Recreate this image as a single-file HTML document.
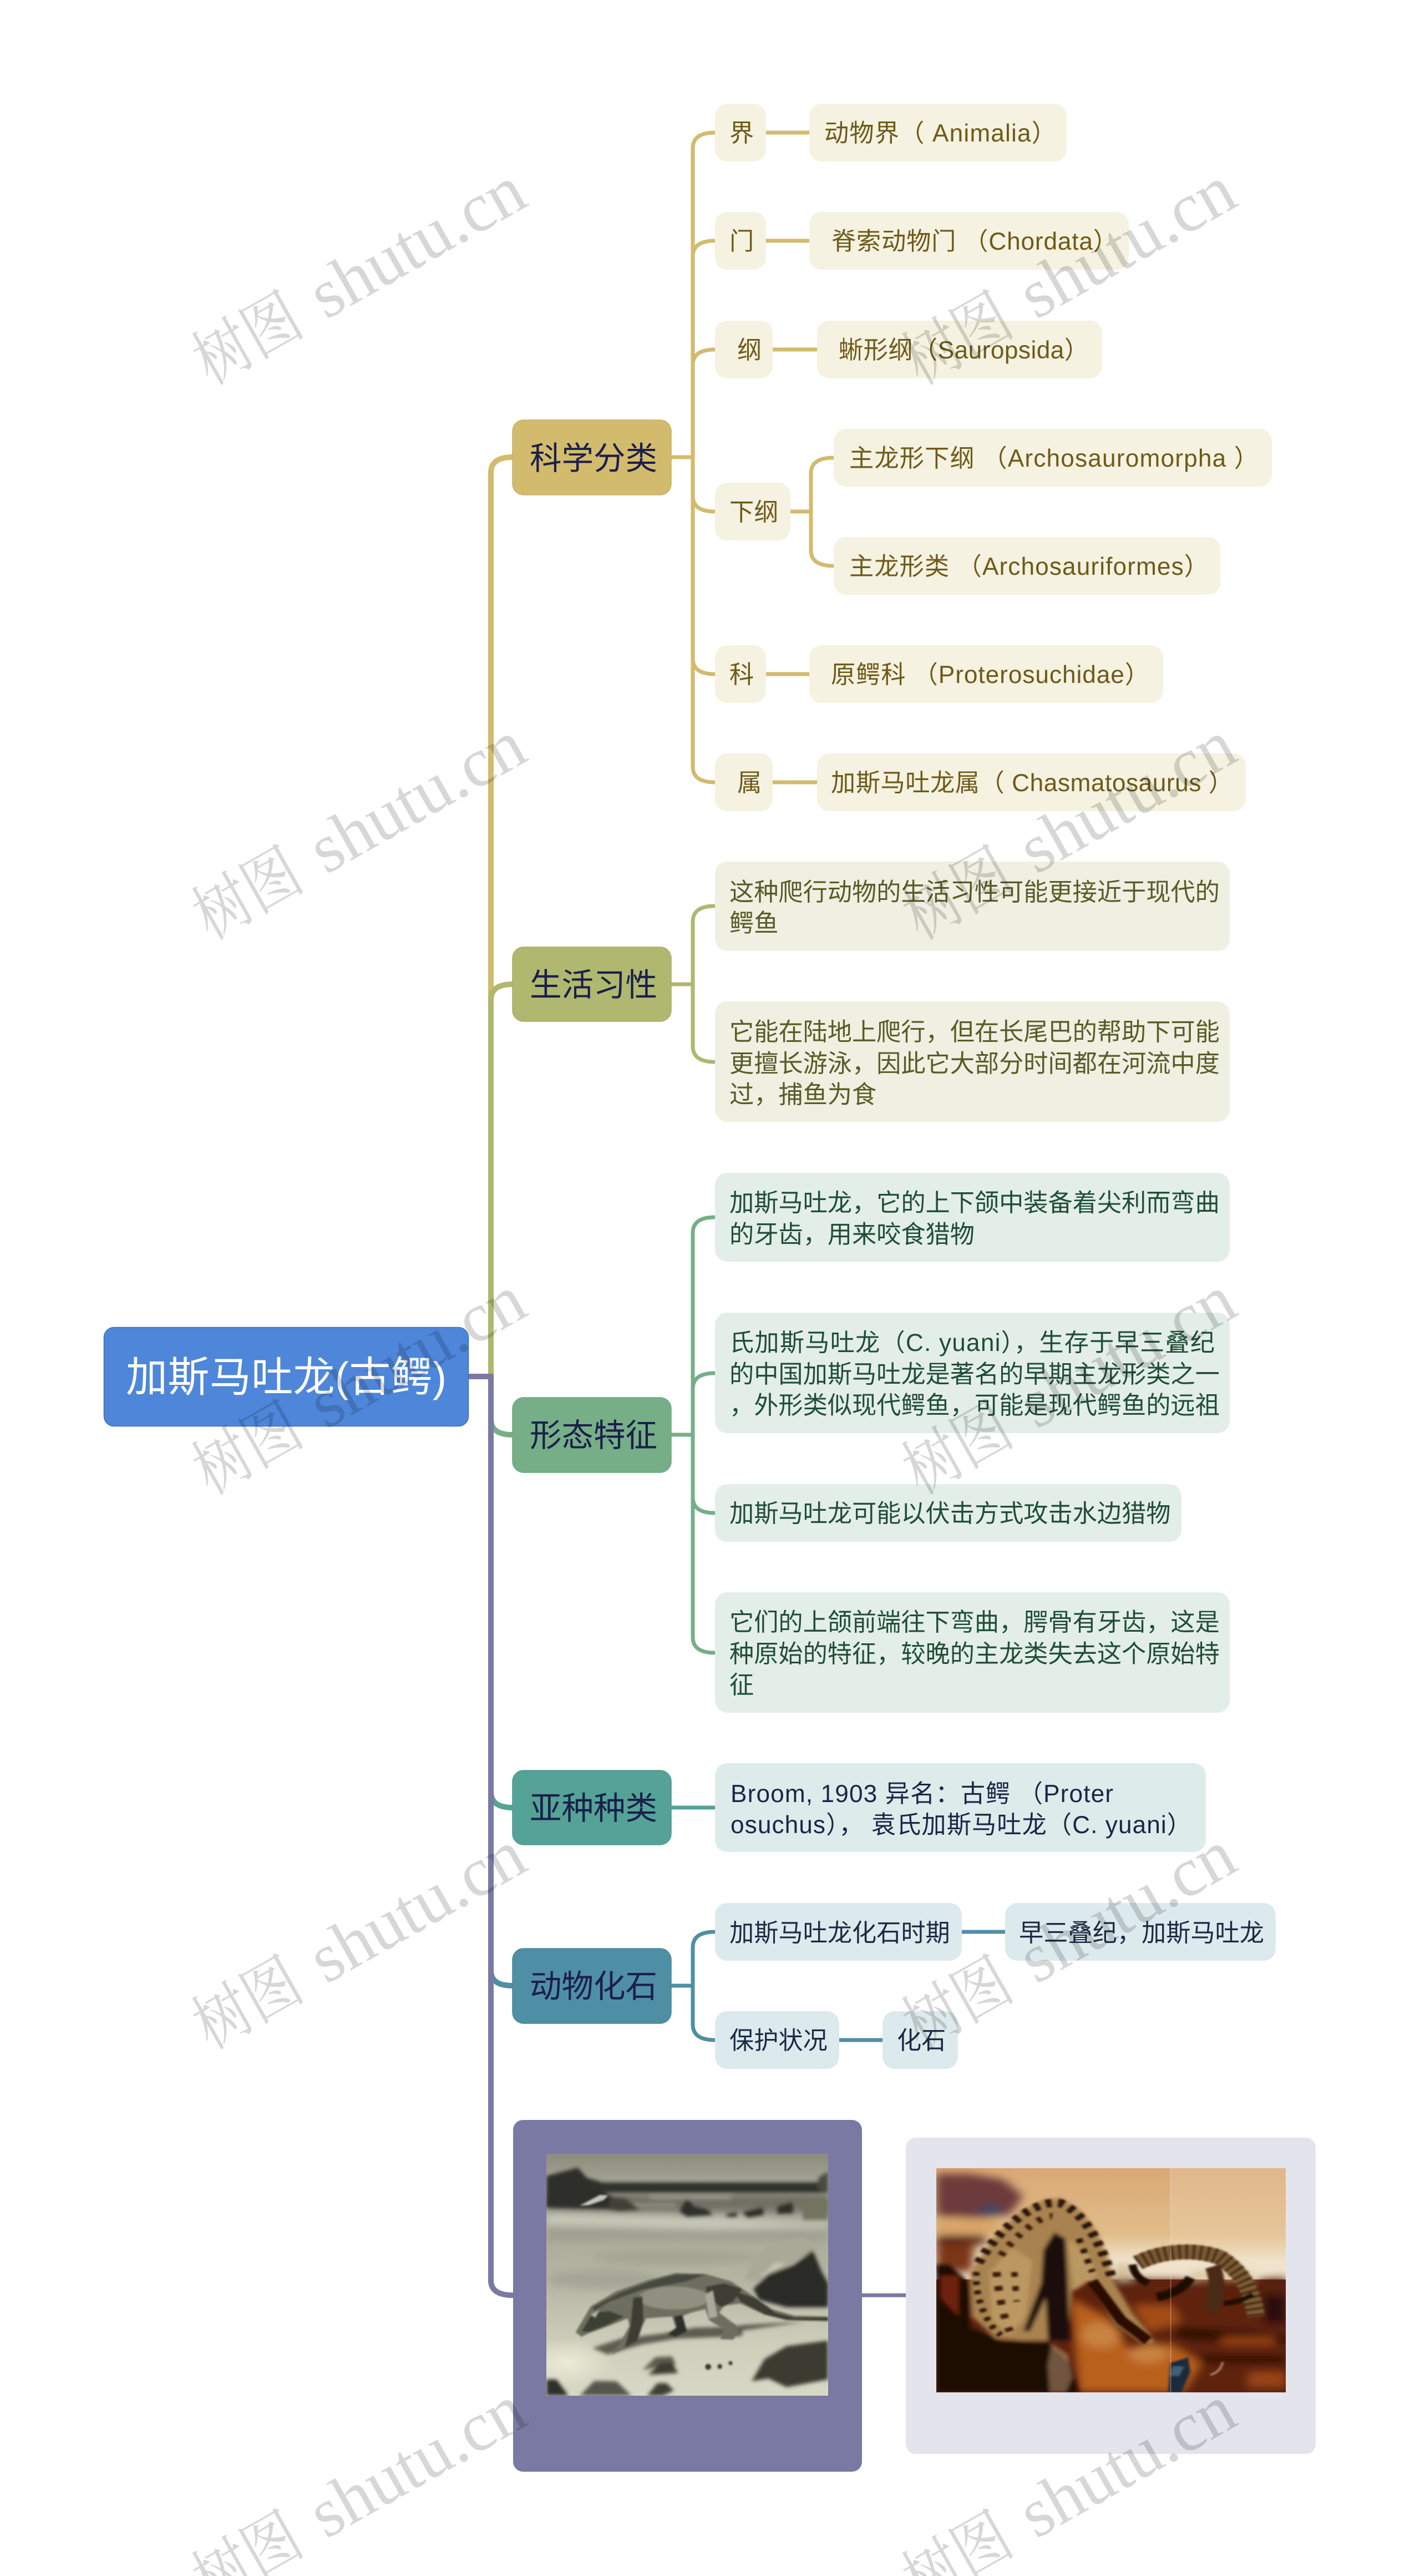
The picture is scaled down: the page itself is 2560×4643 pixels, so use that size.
<!DOCTYPE html>
<html lang="zh-CN"><head><meta charset="utf-8"><title>加斯马吐龙(古鳄)</title>
<style>
html,body{margin:0;padding:0;background:#fff;width:2560px;height:4643px;overflow:hidden}
svg{display:block}
text{font-family:"Liberation Sans","Noto Sans CJK SC",sans-serif;white-space:pre}
.l text{font-size:44.2px}
.b text{font-size:57.5px;fill:#1b1f4b}
.w text{font-family:"Liberation Serif","Noto Serif CJK SC",serif;fill:#000;fill-opacity:.155}
.w .c{font-size:116px}
.w .e{font-size:126px}
</style></head><body>
<svg width="2560" height="4643" viewBox="0 0 2560 4643" xmlns="http://www.w3.org/2000/svg">
<defs>
<filter id="b8" x="-10%" y="-10%" width="120%" height="120%"><feGaussianBlur stdDeviation="22"/></filter>
<filter id="b4" x="-10%" y="-10%" width="120%" height="120%"><feGaussianBlur stdDeviation="10"/></filter>
<filter id="b2" x="-10%" y="-10%" width="120%" height="120%"><feGaussianBlur stdDeviation="5"/></filter>
<linearGradient id="sky" x1="0" y1="0" x2="0" y2="1"><stop offset="0" stop-color="#d9a874"/><stop offset=".6" stop-color="#e2bd8a"/><stop offset=".82" stop-color="#f0e2ca"/><stop offset="1" stop-color="#efe4d0"/></linearGradient>
<linearGradient id="sea" x1="0" y1="0" x2="0" y2="1"><stop offset="0" stop-color="#8b8c7c"/><stop offset=".1" stop-color="#a0a090"/><stop offset=".3" stop-color="#a8a998"/><stop offset=".55" stop-color="#b6b7a5"/><stop offset=".8" stop-color="#cfcfbc"/><stop offset="1" stop-color="#d8d8c6"/></linearGradient>
<radialGradient id="glow"><stop offset="0" stop-color="#ecebd6"/><stop offset="1" stop-color="#ecebd6" stop-opacity="0"/></radialGradient>
</defs>
<rect width="2560" height="4643" fill="#fff"/>

<g fill="none">
<g stroke-width="10">
<path stroke="#d2bb6c" d="M885,2481V852Q885,824 924,824"/>
<path stroke="#afb86e" d="M885,2481V1802Q885,1774 924,1774"/>
<path stroke="#76af87" d="M885,2481V2558Q885,2586 924,2586"/>
<path stroke="#54a396" d="M885,2481V3230Q885,3258 924,3258"/>
<path stroke="#4f8fa5" d="M885,2481V3552Q885,3579 924,3579"/>
<path stroke="#7a79a3" d="M845,2481H885V4110Q885,4137 925,4137"/>
</g>
<g stroke="#d2bb6c" stroke-width="7">
<path d="M1210,824H1249"/>
<path d="M1249,824V267Q1249,239 1289,239H1459"/>
<path d="M1249,824V462Q1249,434 1289,434H1459"/>
<path d="M1249,824V658Q1249,630 1289,630H1473"/>
<path d="M1249,824V894Q1249,922 1289,922H1462"/>
<path d="M1249,824V1187Q1249,1215 1289,1215H1459"/>
<path d="M1249,824V1382Q1249,1410 1289,1410H1473"/>
<path d="M1462,922V853Q1462,825 1503,825"/>
<path d="M1462,922V992Q1462,1020 1503,1020"/>
</g>
<g stroke="#afb86e" stroke-width="7">
<path d="M1210,1774H1249"/>
<path d="M1249,1774V1661Q1249,1633 1289,1633"/>
<path d="M1249,1774V1886Q1249,1914 1289,1914"/>
</g>
<g stroke="#76af87" stroke-width="7">
<path d="M1210,2586H1249"/>
<path d="M1249,2586V2222Q1249,2194 1289,2194"/>
<path d="M1249,2586V2503Q1249,2475 1289,2475"/>
<path d="M1249,2586V2699Q1249,2727 1289,2727"/>
<path d="M1249,2586V2951Q1249,2979 1289,2979"/>
</g>
<path stroke="#54a396" stroke-width="7" d="M1210,3258H1289"/>
<g stroke="#4f8fa5" stroke-width="7">
<path d="M1210,3579H1249"/>
<path d="M1249,3579V3510Q1249,3482 1289,3482H1812"/>
<path d="M1249,3579V3649Q1249,3677 1289,3677H1591"/>
</g>
<path stroke="#7a79a3" stroke-width="7" d="M1553,4137H1633"/>
</g>

<rect x="187.500" y="2392.500" width="657" height="178" rx="18" fill="#4e86da" stroke="#3b6fbf" stroke-width="1.500"/>
<text x="227" y="2508" font-size="75" fill="#fff" textLength="578">加斯马吐龙(古鳄)</text>

<g class="b">
<rect x="924" y="757" width="286" height="135" rx="20" fill="#d2bb6c" stroke="#c9b163" stroke-width="1.500"/>
<rect x="924" y="1707" width="286" height="134" rx="20" fill="#afb86e" stroke="#a6af65" stroke-width="1.500"/>
<rect x="924" y="2519" width="286" height="135" rx="20" fill="#76af87" stroke="#6ea67f" stroke-width="1.500"/>
<rect x="924" y="3191" width="286" height="134" rx="20" fill="#54a396" stroke="#4c9a8d" stroke-width="1.500"/>
<rect x="924" y="3512" width="286" height="135" rx="20" fill="#4f8fa5" stroke="#47869c" stroke-width="1.500"/>
<text x="955" y="846">科学分类</text>
<text x="955" y="1795">生活习性</text>
<text x="955" y="2607">形态特征</text>
<text x="955" y="3279">亚种种类</text>
<text x="955" y="3600">动物化石</text>
</g>

<g class="l" fill="#f5f2e1">
<rect x="1289" y="187" width="92" height="104" rx="22"/>
<rect x="1459" y="187" width="464" height="104" rx="22"/>
<rect x="1289" y="382" width="92" height="104" rx="22"/>
<rect x="1459" y="382" width="576" height="104" rx="22"/>
<rect x="1289" y="578" width="104" height="104" rx="22"/>
<rect x="1473" y="578" width="514" height="104" rx="22"/>
<rect x="1289" y="870" width="136" height="104" rx="22"/>
<rect x="1503" y="773" width="790" height="104" rx="22"/>
<rect x="1503" y="968" width="697" height="104" rx="22"/>
<rect x="1289" y="1163" width="92" height="104" rx="22"/>
<rect x="1459" y="1163" width="638" height="104" rx="22"/>
<rect x="1289" y="1358" width="104" height="104" rx="22"/>
<rect x="1473" y="1358" width="773" height="104" rx="22"/>
<g fill="#6f5a18">
<text x="1315" y="255">界</text>
<text x="1486" y="255" textLength="418">动物界（ Animalia）</text>
<text x="1315" y="450">门</text>
<text x="1499" y="450" textLength="516">脊索动物门 （Chordata）</text>
<text x="1329" y="646">纲</text>
<text x="1512" y="646" textLength="451">蜥形纲（Sauropsida）</text>
<text x="1315" y="938">下纲</text>
<text x="1531" y="841" textLength="738">主龙形下纲 （Archosauromorpha ）</text>
<text x="1531" y="1036" textLength="648">主龙形类 （Archosauriformes）</text>
<text x="1315" y="1231">科</text>
<text x="1498" y="1231" textLength="574">原鳄科 （Proterosuchidae）</text>
<text x="1329" y="1426">属</text>
<text x="1498" y="1426" textLength="725">加斯马吐龙属（ Chasmatosaurus ）</text>
</g>
</g>

<g class="l" fill="#eff0e2">
<rect x="1289" y="1553" width="928" height="161" rx="22"/>
<rect x="1289" y="1805" width="928" height="217" rx="22"/>
<g fill="#565d25">
<text x="1315" y="1623">这种爬行动物的生活习性可能更接近于现代的</text>
<text x="1315" y="1679">鳄鱼</text>
<text x="1315" y="1875">它能在陆地上爬行，但在长尾巴的帮助下可能</text>
<text x="1315" y="1932">更擅长游泳，因此它大部分时间都在河流中度</text>
<text x="1315" y="1988">过，捕鱼为食</text>
</g>
</g>

<g class="l" fill="#e4eee8">
<rect x="1289" y="2114" width="928" height="160" rx="22"/>
<rect x="1289" y="2366" width="928" height="217" rx="22"/>
<rect x="1289" y="2675" width="841" height="104" rx="22"/>
<rect x="1289" y="2870" width="928" height="217" rx="22"/>
<g fill="#1f4f36">
<text x="1315" y="2183">加斯马吐龙，它的上下颌中装备着尖利而弯曲</text>
<text x="1315" y="2240">的牙齿，用来咬食猎物</text>
<text x="1315" y="2435" textLength="875">氏加斯马吐龙（C. yuani），生存于早三叠纪</text>
<text x="1315" y="2492">的中国加斯马吐龙是著名的早期主龙形类之一</text>
<text x="1315" y="2548">，外形类似现代鳄鱼，可能是现代鳄鱼的远祖</text>
<text x="1315" y="2743">加斯马吐龙可能以伏击方式攻击水边猎物</text>
<text x="1315" y="2939">它们的上颌前端往下弯曲，腭骨有牙齿，这是</text>
<text x="1315" y="2996">种原始的特征，较晚的主龙类失去这个原始特</text>
<text x="1315" y="3052">征</text>
</g>
</g>

<g class="l">
<rect x="1289" y="3178" width="885" height="160" rx="22" fill="#ddecea"/>
<g fill="#1b2548">
<text x="1317" y="3248" textLength="690">Broom, 1903 异名：古鳄 （Proter</text>
<text x="1317" y="3304" textLength="831">osuchus）， 袁氏加斯马吐龙（C. yuani）</text>
</g>
</g>

<g class="l" fill="#ddeaed">
<rect x="1289" y="3430" width="445" height="104" rx="22"/>
<rect x="1812" y="3430" width="488" height="104" rx="22"/>
<rect x="1289" y="3625" width="224" height="104" rx="22"/>
<rect x="1591" y="3625" width="136" height="104" rx="22"/>
<g fill="#1b2b45">
<text x="1315" y="3499">加斯马吐龙化石时期</text>
<text x="1837" y="3499">早三叠纪，加斯马吐龙</text>
<text x="1315" y="3693">保护状况</text>
<text x="1617" y="3693">化石</text>
</g>
</g>

<rect x="925" y="3821" width="629" height="634" rx="18" fill="#7a79a3"/>
<rect x="1633" y="3853" width="739" height="570" rx="18" fill="#e3e4ec"/>

<!-- greyscale picture -->
<svg x="985" y="3882" width="508" height="436" viewBox="0 0 1524 1308" preserveAspectRatio="none">
<rect width="1524" height="1308" fill="url(#sea)"/>
<ellipse cx="110" cy="1130" rx="260" ry="130" fill="url(#glow)"/>
<g filter="url(#b8)">
<rect x="0" y="395" width="1524" height="70" fill="#9e9f8f"/>
<path fill="#c8c9b9" d="M0,310Q500,340 1000,345L1400,370 1524,370V400L900,410 0,385Z"/>
<rect x="0" y="215" width="1524" height="100" fill="#6f7065"/>
<ellipse cx="700" cy="560" rx="450" ry="40" fill="#a3a493"/>
<ellipse cx="300" cy="680" rx="300" ry="50" fill="#a4a594"/>
</g>
<g filter="url(#b4)">
<rect x="0" y="155" width="1524" height="55" fill="#2f302a"/>
<path fill="#2e2f2a" d="M0,120L170,75 220,130 290,150 305,205 350,230 500,300 200,295 0,290Z"/>
<path fill="#4a4b42" d="M1470,130L1524,95V210L1470,195Z"/>
<path fill="#73745f" d="M1380,260L1524,235V355L1390,358Z"/>
<path fill="#2e2f2a" d="M720,310L760,240 800,285 870,300 900,330 760,340ZM1060,315L1170,290 1175,330 1090,345ZM1250,285L1330,262 1335,320 1250,325ZM970,325L1030,315V340H980Z"/>
<path fill="#95968a" d="M560,225H1000V245H560ZM420,270H700V285H420Z"/>
<path fill="#3f4038" d="M340,240H420L510,300 400,310 340,300Z"/>
</g>
<g filter="url(#b2)">
<path fill="#c4c5b8" d="M180,280L290,222 335,225 310,250 230,278Z"/>
</g>
<g filter="url(#b4)">
<path fill="#a8a997" d="M1070,680L1120,570 1200,490 1380,450 1470,510 1300,610 1150,690Z"/>
<path fill="#2a2b27" d="M1120,730L1200,650 1340,600 1440,520 1490,640 1524,700V830L1300,830 1150,790Z"/>
<path fill="#c7c8b7" d="M1150,670L1240,590 1300,590 1180,660Z"/>
<path fill="#5c5d50" d="M250,1050L400,1000 640,970 800,940 1000,935 1070,925 1400,908 1060,955 1060,985 700,1000 520,1030 330,1085Z"/>
<path fill="#3a3b33" d="M1110,1230L1180,1110 1300,1040 1524,1010V1220L1300,1262 1200,1215Z"/>
<path fill="#5b5c50" d="M520,1170L590,1100 680,1095 700,1140 610,1150Z"/>
<path fill="#3a3a32" d="M550,1195L620,1130 680,1130 712,1185Z"/>
<path fill="#2e2f2a" d="M0,1308V1220H55L120,1308Z"/>
<path fill="#55564b" d="M180,1308L260,1228 380,1230 460,1308Z"/>
<path fill="#3e3f36" d="M545,1308L600,1240 650,1240 690,1280 630,1308Z"/>
</g>
<g filter="url(#b2)">
<path fill="#6d6e5e" d="M158,965L240,825 380,742 560,680 700,645 860,650 1000,690 1120,770 1220,840 1340,875 1524,880V905L1300,900 1180,870 1050,810 960,820 935,860 1030,930 1040,960 1010,1005 940,1002 960,950 880,900 860,840 780,860 730,880 760,960 700,992 650,980 700,940 680,880 540,890 520,930 490,1020 420,1050 350,1088 400,1020 450,930 440,890 340,930 230,970 190,990Z"/>
<ellipse cx="690" cy="780" rx="190" ry="62" fill="#8f9080"/>
<path fill="#3c3d35" d="M860,720L960,700 1060,730 1010,800 950,830 880,790ZM1010,740L1130,780 1240,860 1340,885 1524,885V903L1300,898 1180,868 1050,800Z"/>
<path fill="#474840" d="M250,830L400,750 560,690 700,652 860,652 760,690 520,735 340,800 260,850Z"/>
<path fill="#3c3d35" d="M470,780L520,770 525,900 490,1015 425,1045 455,930Z"/>
<path fill="#2e2f29" d="M690,880L735,870 760,960 700,990 655,978 705,940Z"/>
<path fill="#a9aa9a" d="M860,760L900,740 925,880 880,890Z"/>
<path fill="#3e3f36" d="M190,960L250,860 340,850 420,880 330,925 230,965Z"/>
<path fill="#b3b4a5" d="M240,870L285,845 265,885Z"/>
<circle cx="875" cy="1152" r="16" fill="#3a3a32"/><circle cx="938" cy="1150" r="13" fill="#3a3a32"/><circle cx="996" cy="1132" r="11" fill="#3a3a32"/>
</g>
</svg>

<!-- colour picture -->
<svg x="1688" y="3908" width="630" height="404" viewBox="0 0 1568 1209" preserveAspectRatio="none">
<rect width="1568" height="1209" fill="#5c200c"/>
<rect width="1568" height="600" fill="url(#sky)"/>
<rect x="1050" width="518" height="480" fill="#f0dcbc" opacity=".3"/>
<g filter="url(#b8)">
<path fill="#6d3b3b" d="M0,30L150,30 300,60 390,150 330,250 200,270 0,260Z"/>
<ellipse cx="240" cy="230" rx="60" ry="35" fill="#4a4560"/>
<rect x="0" y="275" width="280" height="75" fill="#d9a468"/>
<rect x="0" y="360" width="220" height="50" fill="#5a2c1a"/>
<path fill="#7c3418" d="M0,410H170L160,560H0Z"/>
<path fill="#5e2410" d="M780,600L1120,600 1300,720 1568,800V1209H1050L900,850Z"/>
<path fill="#a44e18" d="M880,740H1060L1100,830 950,880Z"/>
<path fill="#d8c09a" d="M800,520H880V600H800ZM1140,560H1420V600H1140Z"/>
<path fill="#54200e" d="M1440,600L1568,590V800H1450Z"/>
<path fill="#2a0c07" d="M1470,680H1568V840H1470Z"/>
<path fill="#b9601e" d="M600,700L770,800 880,1000 1050,950 1190,1050 1100,1209H640Z"/>
<ellipse cx="740" cy="900" rx="90" ry="70" fill="#c98240"/>
<ellipse cx="950" cy="1000" rx="90" ry="50" fill="#c98240"/>
<path fill="#270a06" d="M1080,860L1420,880 1568,900V950L1080,920ZM1180,1010H1568V1050H1180Z"/>
<path fill="#9a4418" d="M1280,910H1520V950H1280ZM1400,1100H1568V1180H1400Z"/>
</g>
<g filter="url(#b4)">
<path fill="#1f0805" d="M0,520H60L150,620 150,860 300,930 500,940 600,1050 640,1209H0Z"/>
<path fill="#6e2010" d="M20,580H100V800L20,700Z"/>
<path fill="#a98350" d="M150,560L260,370 380,230 480,170 560,160 650,230 720,340 770,480 800,620 880,780 960,900 980,950 900,925 800,830 690,600 610,660 590,930 390,930 270,920 160,800Z"/>
<path fill="#bb9862" d="M240,560L340,430 430,500 400,800 330,900 250,820Z"/>
<path fill="#bb9862" d="M590,380L680,460 720,580 620,660Z"/>
<path fill="#1e0a0a" d="M530,345L580,380 590,600 600,930 500,930 490,700 420,880 390,880 470,620 480,440Z"/>
<path fill="#d4b488" d="M520,950L590,1000 610,1130 580,1209 510,1209 500,1060Z" opacity=".45"/>
</g>
<g fill="none" filter="url(#b2)">
<path stroke="#2a1408" stroke-width="44" stroke-dasharray="26 30" d="M190,510C270,340 440,160 560,190 660,240 740,400 790,600"/>
<path stroke="#3a1c0a" stroke-width="34" stroke-dasharray="22 40" d="M290,470C350,370 470,250 520,260"/>
<path stroke="#2a1408" stroke-width="30" stroke-dasharray="24 34" d="M640,380L700,560"/>
<path stroke="#2a1408" stroke-width="30" stroke-dasharray="20 30" d="M180,560C170,680 220,840 290,900"/>
<path stroke="#3a1c0a" stroke-width="36" stroke-dasharray="26 50" d="M270,560C280,680 300,800 330,880"/>
<path stroke="#3a1c0a" stroke-width="28" stroke-dasharray="26 50" d="M350,560L360,720"/>
<path stroke="#2a1006" stroke-width="50" d="M700,610L830,820 950,930"/>
<path stroke="#7d5a30" stroke-width="80" d="M905,510C1000,450 1150,430 1270,480 1380,560 1420,680 1435,800"/>
<path stroke="#2c1408" stroke-width="82" stroke-dasharray="10 22" d="M905,510C1000,450 1150,430 1270,480 1380,560 1420,680 1435,800"/>
<path stroke="#1c0806" stroke-width="36" d="M880,520Q890,590 950,620"/>
<path stroke="#1c0806" stroke-width="44" d="M1140,590Q1100,670 990,695"/>
<path stroke="#4a2c12" stroke-width="70" d="M1240,530Q1280,640 1230,770"/>
<path stroke="#1c0806" stroke-width="26" d="M1290,730Q1370,720 1420,680"/>
</g>
<g filter="url(#b2)">
<path fill="#1f2c3c" d="M1050,1050L1130,1020 1140,1100 1100,1209H1040Z"/>
<path fill="#3f6078" d="M1060,1070H1110L1090,1120H1050Z"/>
<path fill="none" stroke="#e8d0a8" stroke-width="6" d="M1230,1115Q1275,1100 1285,1045"/>
</g>
<rect x="1049" y="0" width="5" height="1209" fill="#f4e2c8" opacity=".3"/>
</svg>

<g class="w">
<g transform="translate(370 700) rotate(-29.500)"><text class="c" x="12" transform="scale(.86 1)">树图</text><text class="e" x="250">shutu.cn</text></g>
<g transform="translate(1650 700) rotate(-29.500)"><text class="c" x="12" transform="scale(.86 1)">树图</text><text class="e" x="250">shutu.cn</text></g>
<g transform="translate(370 1700) rotate(-29.500)"><text class="c" x="12" transform="scale(.86 1)">树图</text><text class="e" x="250">shutu.cn</text></g>
<g transform="translate(1650 1700) rotate(-29.500)"><text class="c" x="12" transform="scale(.86 1)">树图</text><text class="e" x="250">shutu.cn</text></g>
<g transform="translate(370 2700) rotate(-29.500)"><text class="c" x="12" transform="scale(.86 1)">树图</text><text class="e" x="250">shutu.cn</text></g>
<g transform="translate(1650 2700) rotate(-29.500)"><text class="c" x="12" transform="scale(.86 1)">树图</text><text class="e" x="250">shutu.cn</text></g>
<g transform="translate(370 3700) rotate(-29.500)"><text class="c" x="12" transform="scale(.86 1)">树图</text><text class="e" x="250">shutu.cn</text></g>
<g transform="translate(1650 3700) rotate(-29.500)"><text class="c" x="12" transform="scale(.86 1)">树图</text><text class="e" x="250">shutu.cn</text></g>
<g transform="translate(370 4700) rotate(-29.500)"><text class="c" x="12" transform="scale(.86 1)">树图</text><text class="e" x="250">shutu.cn</text></g>
<g transform="translate(1650 4700) rotate(-29.500)"><text class="c" x="12" transform="scale(.86 1)">树图</text><text class="e" x="250">shutu.cn</text></g>
</g>
</svg>
</body></html>
